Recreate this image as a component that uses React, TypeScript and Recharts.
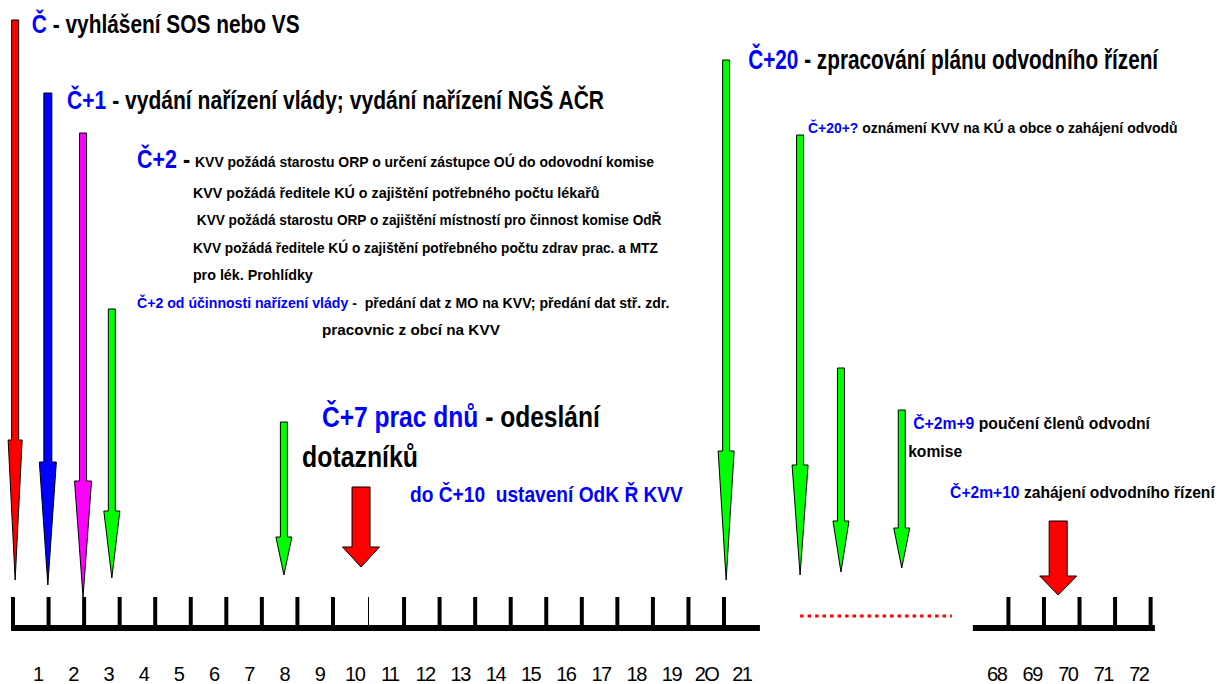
import { ComposedChart, XAxis, YAxis, Scatter, ReferenceArea, ReferenceLine } from "recharts";

const BLUE = "#0000ff";
const FONT = "'Liberation Sans', Arial, sans-serif";

// timeline: day units on x, vertical units on y (0 = top)
const nearTicks = [0, 1, 2, 3, 4, 5, 6, 7, 8, 9, 10, 11, 12, 13, 14, 15, 16, 17, 18, 19, 20];
const farTicks = [28, 29, 30, 31, 32];
const nearLabels = ["1", "2", "3", "4", "5", "6", "7", "8", "9", "10", "11", "12", "13", "14", "15", "16", "17", "18", "19", "2O", "21"];
const farLabels = ["68", "69", "70", "71", "72"];

// arrows: position on timeline, top of shaft, start of head, tip
const arrows = [
  { day: 0.06, top: 20, neck: 440, tip: 580, kind: "red" },
  { day: 0.98, top: 93, neck: 462, tip: 585, kind: "blue" },
  { day: 1.97, top: 133, neck: 481, tip: 597, kind: "magenta" },
  { day: 2.78, top: 309, neck: 511, tip: 578, kind: "green" },
  { day: 7.62, top: 422, neck: 537, tip: 575, kind: "green" },
  { day: 9.79, top: 487, neck: 547, tip: 567, kind: "block" },
  { day: 20.06, top: 60, neck: 451, tip: 580, kind: "green" },
  { day: 22.14, top: 135, neck: 465, tip: 575, kind: "green" },
  { day: 23.29, top: 368, neck: 521, tip: 572, kind: "green" },
  { day: 25.0, top: 410, neck: 528, tip: 568, kind: "green" },
  { day: 29.4, top: 521, neck: 576, tip: 595, kind: "block" },
];

// captions: [text, "b" blue | "k" black] parts
const captions = [
  { day: 0.53, y: 33, parts: [["Č", "b"], [" - vyhlášení SOS nebo VS", "k"]] },
  { day: 1.52, y: 109, parts: [["Č+1", "b"], [" - vydání nařízení vlády; vydání nařízení NGŠ AČR", "k"]] },
  { day: 3.49, y: 168, parts: [["Č+2 ", "b"], ["-", "k"]] },
  { day: 5.12, y: 167, parts: [["KVV požádá starostu ORP o určení zástupce OÚ do odovodní komise", "k"]] },
  { day: 5.06, y: 198, parts: [["KVV požádá ředitele KÚ o zajištění potřebného počtu lékařů", "k"]] },
  { day: 5.17, y: 225, parts: [["KVV požádá starostu ORP o zajištění místností pro činnost komise OdŘ", "k"]] },
  { day: 5.06, y: 253, parts: [["KVV požádá ředitele KÚ o zajištění potřebného počtu zdrav prac. a MTZ", "k"]] },
  { day: 5.06, y: 280, parts: [["pro lék. Prohlídky", "k"]] },
  { day: 3.49, y: 308, parts: [["Č+2 od účinnosti nařízení vlády", "b"], [" -  předání dat z MO na KVV; předání dat stř. zdr.", "k"]] },
  { day: 8.69, y: 335, parts: [["pracovnic z obcí na KVV", "k"]] },
  { day: 8.69, y: 427, parts: [["Č+7 prac dnů", "b"], [" - odeslání", "k"]] },
  { day: 8.13, y: 467, parts: [["dotazníků", "k"]] },
  { day: 11.17, y: 502, parts: [["do Č+10  ustavení OdK Ř KVV", "b"]] },
  { day: 20.68, y: 69, parts: [["Č+20", "b"], [" - zpracování plánu odvodního řízení", "k"]] },
  { day: 22.36, y: 133, parts: [["Č+20+?", "b"], [" oznámení KVV na KÚ a obce o zahájení odvodů", "k"]] },
  { day: 25.32, y: 429, parts: [["Č+2m+9", "b"], [" poučení členů odvodní", "k"]] },
  { day: 25.18, y: 457, parts: [["komise", "k"]] },
  { day: 26.36, y: 498, parts: [["Č+2m+10", "b"], [" zahájení odvodního řízení", "k"]] },
];

// font size / rendered width for each caption, same order
const captionStyle = [
  [26, 268], [25, 538], [26, 53], [15, 460], [15, 407], [15, 465], [15, 465], [15, 120],
  [15, 533], [15, 178], [29, 278], [29, 116], [22, 273], [27, 410], [14.5, 370],
  [16, 237], [16, 54], [16, 265],
];

const arrowStyle: Record<string, { fill: string; shaft: number; head: number }> = {
  red: { fill: "#ff0000", shaft: 7, head: 14 },
  blue: { fill: "#0000ff", shaft: 8, head: 17 },
  magenta: { fill: "#ff00ff", shaft: 7, head: 17 },
  green: { fill: "#00ff00", shaft: 7, head: 16 },
  block: { fill: "#ff0000", shaft: 18, head: 37 },
};

const labelTicks = [
  ...nearLabels.map((_, i) => i + 1 - 0.3 - 0.01 * i),
  ...farTicks.map((d) => d - 0.33),
];
const allLabels = [...nearLabels, ...farLabels];

let ctx: CanvasRenderingContext2D | null = null;
const measure = (txt: string, size: number) => {
  if (!ctx) ctx = document.createElement("canvas").getContext("2d");
  if (!ctx) return txt.length * size * 0.55;
  ctx.font = `bold ${size}px 'Liberation Sans'`;
  return ctx.measureText(txt).width;
};

const makeArrow = (a: any) => (p: any) => {
  const { x, y, width, height } = p;
  const cx = x + width / 2;
  const y0 = Math.min(y, y + height);
  const y1 = Math.max(y, y + height);
  const neck = y0 + ((a.neck - a.top) / (a.tip - a.top)) * (y1 - y0);
  const st = arrowStyle[a.kind];
  const s = st.shaft / 2;
  const h = st.head / 2;
  const pts = [
    [cx - s, y0], [cx + s, y0], [cx + s, neck], [cx + h, neck],
    [cx, y1], [cx - h, neck], [cx - s, neck],
  ].map((q) => q.join(",")).join(" ");
  return <polygon points={pts} fill={st.fill} stroke="#000" strokeWidth={1} />;
};

const Caption = (p: any) => {
  const row = p.payload ?? p;
  const idx = captions.indexOf(row);
  const [size, w] = captionStyle[idx] ?? [15, 100];
  const full = row.parts.map((q: string[]) => q[0]).join("");
  const k = w / measure(full, size);
  return (
    <text
      transform={`translate(${p.cx},${p.cy}) scale(${k},1)`}
      x={0}
      y={0}
      fontSize={size}
      fontWeight="bold"
      fontFamily={FONT}
      style={{ whiteSpace: "pre" }}
    >
      {row.parts.map(([t, c]: string[], i: number) => (
        <tspan key={i} fill={c === "b" ? BLUE : "#000"}>{t}</tspan>
      ))}
    </text>
  );
};

export default function App() {
  return (
    <div style={{ position: "absolute", left: 0, top: 0, background: "#fff" }}>
      <ComposedChart width={1221} height={684} margin={{ top: 0, right: 0, bottom: 0, left: 0 }}>
        <XAxis
          type="number"
          dataKey="day"
          domain={[-0.366, 33.98]}
          ticks={labelTicks}
          interval={0}
          tickFormatter={(v: number) => allLabels[labelTicks.findIndex((t) => Math.abs(t - v) < 1e-6)] ?? ""}
          axisLine={false}
          tickLine={false}
          height={30}
          tickMargin={7}
          tick={{ fill: "#000", fontSize: 20, fontFamily: FONT, letterSpacing: -1.5 }}
        />
        <YAxis type="number" dataKey="y" domain={[0, 654]} reversed hide />

        {/* timeline base lines */}
        <ReferenceLine segment={[{ x: -0.056, y: 628 }, { x: 21.01, y: 628 }]} stroke="#000" strokeWidth={6} />
        <ReferenceLine segment={[{ x: 27.0, y: 628 }, { x: 32.12, y: 628 }]} stroke="#000" strokeWidth={6} />
        <ReferenceLine segment={[{ x: 22.14, y: 616 }, { x: 26.41, y: 616 }]} stroke="#ff0000" strokeWidth={3} strokeDasharray="3.5 4" />
        {[...nearTicks, ...farTicks].map((d) => (
          <ReferenceLine
            key={d}
            segment={[{ x: d, y: 597 }, { x: d, y: 628 }]}
            stroke="#000"
            strokeWidth={d === 10 ? 1 : 4}
          />
        ))}

        {arrows.map((a, i) => (
          <ReferenceArea
            key={i}
            x1={a.day - 0.2}
            x2={a.day + 0.2}
            y1={a.top}
            y2={a.tip}
            shape={makeArrow(a)}
          />
        ))}

        <Scatter data={captions} shape={(p: any) => <Caption {...p} />} isAnimationActive={false} />
      </ComposedChart>
    </div>
  );
}
